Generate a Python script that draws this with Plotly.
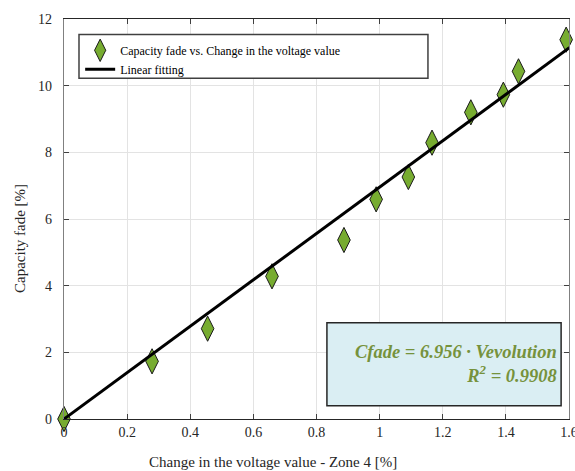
import plotly.graph_objects as go

# Data
x_vals = [0.0, 0.279, 0.455, 0.659, 0.887, 0.989, 1.091, 1.166, 1.289, 1.392, 1.440, 1.591]
y_vals = [0.0, 1.73, 2.71, 4.28, 5.37, 6.59, 7.26, 8.29, 9.20, 9.73, 10.43, 11.38]
slope = 6.956
r2 = 0.9908
fit_x = [0.0, 1.6]
fit_y = [slope * v for v in fit_x]

x_ticks = [0, 0.2, 0.4, 0.6, 0.8, 1.0, 1.2, 1.4, 1.6]
x_ticklabels = ["0", "0.2", "0.4", "0.6", "0.8", "1", "1.2", "1.4", "1.6"]
y_ticks = [0, 2, 4, 6, 8, 10, 12]
x_title = "Change in the voltage value - Zone 4 [%]"
y_title = "Capacity fade [%]"

FONT = "Liberation Serif, Times New Roman, serif"
TXT = "#262626"
GREEN = "#77AC30"
EQ_GREEN = "#76923C"

fig = go.Figure()
fig.add_trace(go.Scatter(
    x=x_vals, y=y_vals, mode="markers",
    name="Capacity fade vs. Change in the voltage value",
    marker=dict(symbol="diamond-tall", size=18, color=GREEN,
                line=dict(color="#1a1a1a", width=1)),
    cliponaxis=False,
))
fig.add_trace(go.Scatter(
    x=fit_x, y=fit_y, mode="lines", name="Linear fitting",
    line=dict(color="black", width=3),
))

# Legend box (white fill, dark border)
fig.add_shape(type="rect", xref="paper", yref="paper",
              x0=0.0297, x1=0.7207, y0=0.852, y1=0.961,
              fillcolor="white", line=dict(color="#404040", width=1.5),
              layer="above")

# Equation box
fig.add_shape(type="rect", xref="x", yref="y",
              x0=0.833, x1=1.575, y0=0.40, y1=2.89,
              fillcolor="#DAEEF3", line=dict(color="#262626", width=1.5),
              layer="above")
fig.add_annotation(
    xref="x", yref="y", x=1.567, y=1.64,
    text=f"<b><i>Cfade = {slope:.3f} · Vevolution</i></b><br><b><i>R<sup>2</sup> = {r2:.4f}</i></b>",
    showarrow=False, xanchor="right", yanchor="middle", align="right",
    font=dict(family=FONT, size=18.5, color=EQ_GREEN),
)

# Axis titles as annotations for precise placement
fig.add_annotation(
    xref="paper", yref="paper", x=0.414, y=0, yshift=-43,
    text=x_title, showarrow=False, xanchor="center", yanchor="middle",
    font=dict(family=FONT, size=15, color=TXT),
)
fig.add_annotation(
    xref="paper", yref="paper", x=0, y=0.45, xshift=-44,
    text=y_title, showarrow=False, xanchor="center", yanchor="middle",
    textangle=-90,
    font=dict(family=FONT, size=15, color=TXT),
)

axis_common = dict(
    showgrid=True, gridcolor="#E3E3E3", gridwidth=1,
    showline=True, mirror="ticks", ticks="inside", ticklen=5,
    tickcolor="#404040", zeroline=False, automargin=False,
    tickfont=dict(family=FONT, size=14, color=TXT),
    ticklabeloverflow="allow",
)

fig.update_xaxes(
    range=[0, 1.6], tickvals=x_ticks, ticktext=x_ticklabels,
    linecolor="#262626", linewidth=1.2,
    **axis_common,
)
fig.update_yaxes(
    range=[0, 12], tickvals=y_ticks,
    linecolor="#808080", linewidth=1.2,
    ticklabelstandoff=8,
    **axis_common,
)

fig.update_layout(
    width=575, height=471,
    margin=dict(l=64, r=6, t=19, b=52),
    paper_bgcolor="white", plot_bgcolor="white",
    font=dict(family=FONT, size=12, color="black"),
    legend=dict(
        x=0.032, y=0.958, xanchor="left", yanchor="top",
        bgcolor="rgba(0,0,0,0)", borderwidth=0,
        font=dict(family=FONT, size=12, color="black"),
        tracegroupgap=0, itemwidth=30,
    ),
    showlegend=True,
)

fig.write_html("out.html")
